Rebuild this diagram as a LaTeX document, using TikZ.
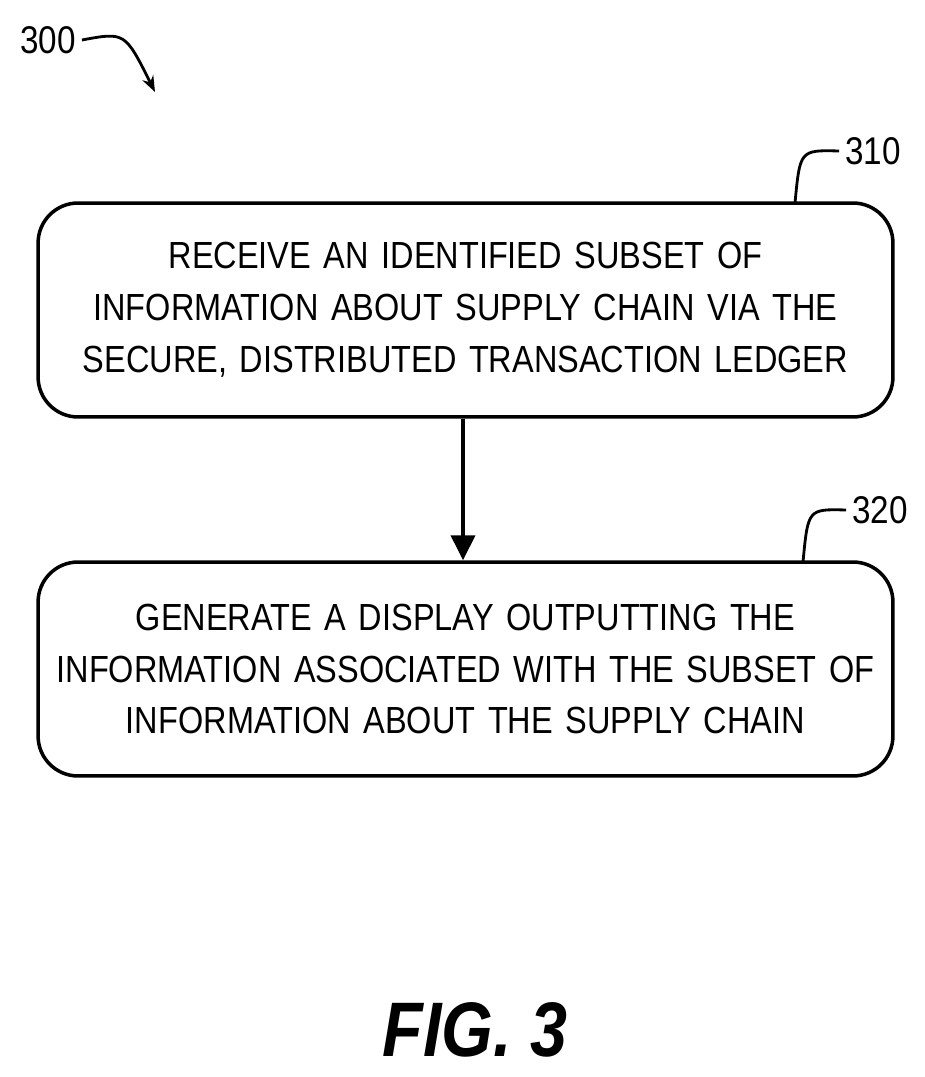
\documentclass[tikz,border=0pt]{standalone}
\usepackage{fontspec}
\setmainfont[FakeStretch=0.86]{Liberation Sans}
\usetikzlibrary{arrows.meta, positioning}

\begin{document}
\begin{tikzpicture}[
    x=0.02cm, y=-0.02cm,
    stepbox/.style={rectangle, rounded corners=0.8cm, draw=black, line width=2pt, text width=16.6cm, inner sep=0pt, minimum height=4.28cm, align=center, font=\fontsize{21.5}{29.5}\selectfont},
    flow/.style={-{Triangle[length=0.5cm, width=0.48cm]}, line width=2.2pt},
    tag/.style={font=\fontsize{22}{26}\selectfont}
]
\useasboundingbox (0,0) rectangle (925,1077);

\node[stepbox, minimum width=17.1cm] (receive) at (465.5,310) {RECEIVE AN IDENTIFIED SUBSET OF\\INFORMATION ABOUT SUPPLY CHAIN VIA THE\\SECURE, DISTRIBUTED TRANSACTION LEDGER};
\node[stepbox, minimum width=17.1cm] (display) at (465.5,669) {GENERATE A DISPLAY OUTPUTTING THE\\INFORMATION ASSOCIATED WITH THE SUBSET OF\\INFORMATION ABOUT THE SUPPLY CHAIN};

\draw[flow] (receive.south -| 463,0) -- (display.north -| 463,0);

% reference labels
\node[tag] (t300) at (48,40) {300};
\node[tag] (t310) at (873,151) {310};
\node[tag] (t320) at (880,510) {320};
\coordinate (c300) at (155,92);
\coordinate (c310) at (795,203);
\coordinate (c320) at (803,562);
\draw[line width=1.6pt, -{Stealth[length=0.32cm]}] (t300.east) .. controls (125,32) .. (c300);
\draw[line width=1.6pt] (t310.west) .. controls (800,150) .. (c310);
\draw[line width=1.6pt] (t320.west) .. controls (808,509) .. (c320);

\node[font=\fontsize{44}{50}\selectfont\bfseries\itshape] (fig) at (475,1030) {FIG. 3};
\end{tikzpicture}
\end{document}
